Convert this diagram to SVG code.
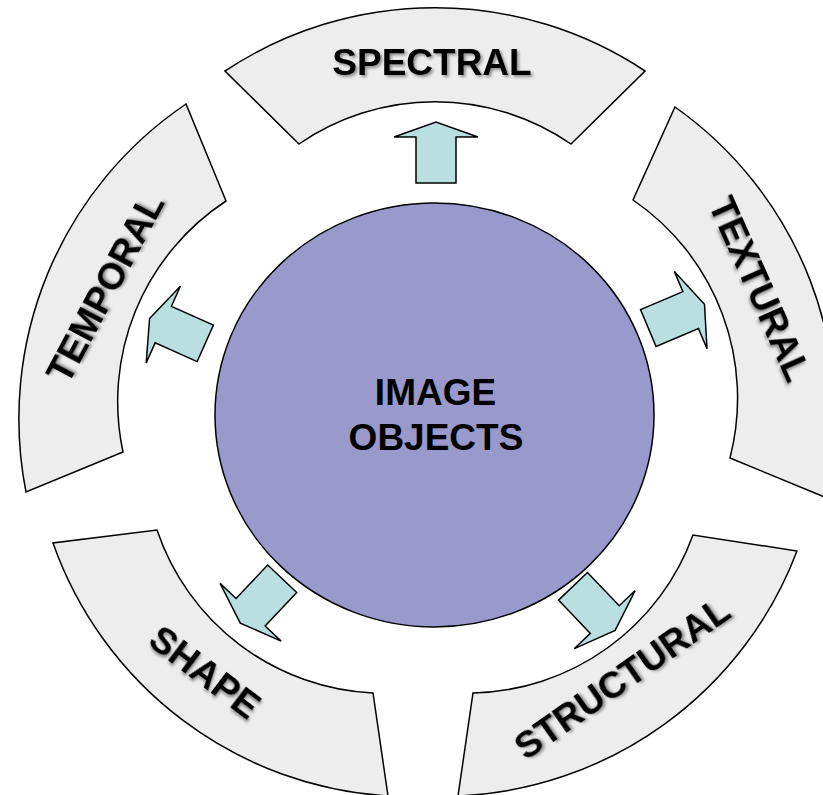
<svg xmlns="http://www.w3.org/2000/svg" width="823" height="795" viewBox="0 0 823 795">
<style>
.seg{fill:#EDEDED;stroke:#000;stroke-width:1.5;stroke-linejoin:miter}
.hub{fill:#9999CC;stroke:#000;stroke-width:1.5}
.arr{fill:#B9DFE1;stroke:#000;stroke-width:1.5;stroke-linejoin:miter}
.lbl{font-family:"Liberation Sans",Arial,Helvetica,sans-serif;font-weight:bold;font-size:37px;fill:#000;text-anchor:middle}
.sh{filter:url(#shadow)}
</style>
<defs>
<filter id="shadow" x="-10%" y="-30%" width="120%" height="160%">
<feDropShadow dx="2" dy="2" stdDeviation="1.5" flood-color="#000" flood-opacity="0.4"/>
</filter>
<polygon id="arrow" points="0,-20 46,-20 46,-42 61,0 46,42 46,20 0,20"/>
</defs>
<rect width="823" height="795" fill="#fff"/>

<g id="spectral">
<path class="seg" d="M225,71 A380,380 0 0 1 645,71 L571,144 A240,240 0 0 0 299,144 Z"/>
<text class="lbl sh" x="432" y="75">SPECTRAL</text>
</g>

<g id="textural">
<path class="seg" d="M675,107 A380,380 0 0 1 827,498 L730,458 A240,240 0 0 0 633,200 Z"/>
<text class="lbl sh" transform="translate(760,289) rotate(66)" x="0" y="13">TEXTURAL</text>
</g>

<g id="structural">
<path class="seg" d="M797,551 A380,380 0 0 1 458,796 L473,693 A240,240 0 0 0 693,535 Z"/>
<text class="lbl sh" transform="translate(622,678) rotate(-35)" x="0" y="13">STRUCTURAL</text>
</g>

<g id="shape">
<path class="seg" d="M388,796 A380,380 0 0 1 53,543 L157,530 A240,240 0 0 0 373,693 Z"/>
<text class="lbl sh" transform="translate(205,672) rotate(37)" x="0" y="13">SHAPE</text>
</g>

<g id="temporal">
<path class="seg" d="M26,492 A380,380 0 0 1 186,104 L226,201 A240,240 0 0 0 123,452 Z"/>
<text class="lbl sh" transform="translate(105,288) rotate(-62)" x="0" y="13">TEMPORAL</text>
</g>

<g id="image-objects">
<ellipse class="hub" cx="434.5" cy="415" rx="219.5" ry="212"/>
<text class="lbl" x="435.5" y="405">IMAGE</text>
<text class="lbl" x="436" y="450">OBJECTS</text>
</g>

<g id="connectors">
<use class="arr" href="#arrow" transform="translate(436,183) rotate(-90)"/>
<use class="arr" href="#arrow" transform="translate(648.3,328) rotate(-22.9)"/>
<use class="arr" href="#arrow" transform="translate(573,586.3) rotate(46.3)"/>
<use class="arr" href="#arrow" transform="translate(282.2,578.8) rotate(133.4)"/>
<use class="arr" href="#arrow" transform="translate(205.3,343.3) rotate(-156)"/>
</g>
</svg>
